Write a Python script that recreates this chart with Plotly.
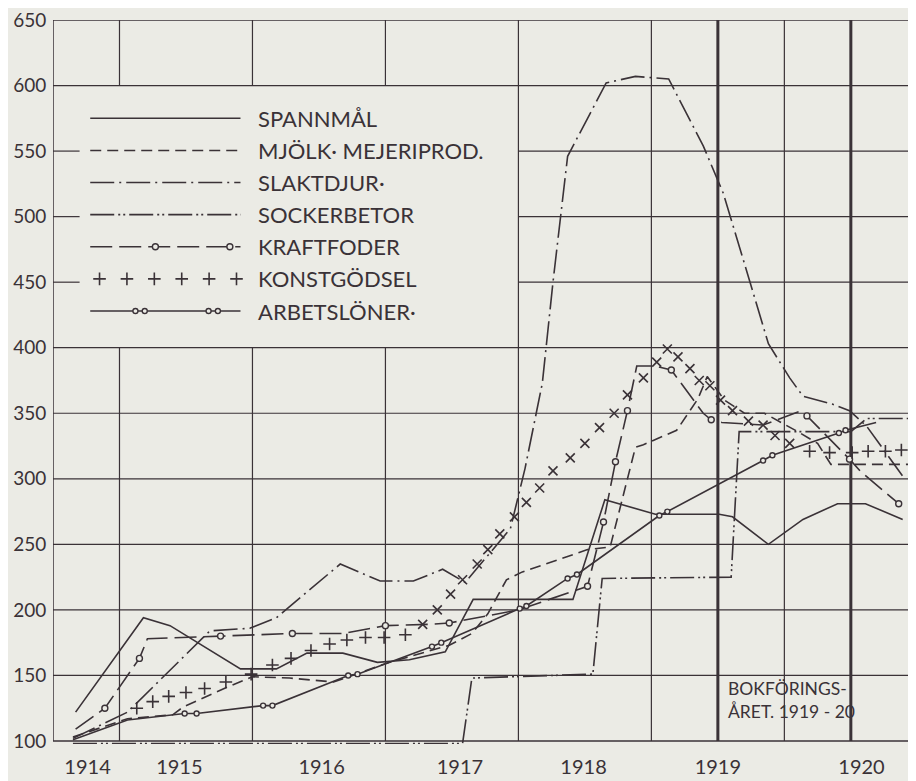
import plotly.graph_objects as go

# ---------------- data ----------------
SERIES_NAMES = ["SPANNMÅL", "MJÖLK· MEJERIPROD.", "SLAKTDJUR·", "SOCKERBETOR",
                "KRAFTFODER", "KONSTGÖDSEL", "ARBETSLÖNER·"]

SPANNMAL_X = [1914.17, 1914.68, 1914.88, 1915.41, 1915.68, 1915.91, 1916.18, 1916.44,
              1916.68, 1916.95, 1917.16, 1917.91, 1918.15, 1918.53, 1919.01, 1919.11,
              1919.38, 1919.64, 1919.90, 1920.11, 1920.39]
SPANNMAL_Y = [122, 194, 188, 155, 155, 167, 167, 160, 162, 168, 208, 208, 284, 273, 273,
              271, 250, 269, 281, 281, 269]

MJOLK_X = [1914.15, 1914.56, 1914.90, 1914.98, 1915.31, 1915.50, 1915.78, 1916.11, 1916.53,
           1916.78, 1916.98, 1917.15, 1917.27, 1917.41, 1917.53, 1918.02, 1918.19, 1918.38,
           1918.44, 1918.69, 1918.85, 1918.92, 1919.05, 1919.20, 1919.35, 1919.60, 1919.75,
           1919.85, 1920.49]
MJOLK_Y = [103, 117, 120, 126, 141, 149, 148, 145, 160, 167, 173, 182, 197, 223, 229, 246,
           248, 324, 326, 337, 361, 378, 360, 350, 350, 336, 327, 311, 311]

SLAKTDJUR_X = [1914.15, 1914.56, 1915.18, 1915.48, 1915.68, 1916.16, 1916.46, 1916.71,
               1916.93, 1917.10, 1917.44, 1917.55, 1917.68, 1917.76, 1917.87, 1918.16,
               1918.38, 1918.63, 1918.89, 1919.04, 1919.23, 1919.38, 1919.54, 1919.64,
               1919.86, 1919.99, 1920.12, 1920.39]
SLAKTDJUR_Y = [102, 122, 184, 186, 194, 235, 222, 222, 231, 221, 262, 308, 373, 450, 546,
               602, 607, 605, 554, 518, 454, 403, 377, 363, 357, 352, 340, 302]

SOCKERBETOR_X = [1914.15, 1917.08, 1917.15, 1918.06, 1918.13, 1919.10, 1919.16, 1920.00,
                 1920.12, 1920.49]
SOCKERBETOR_Y = [98, 98, 148, 151, 224, 225, 336, 336, 346, 346]

KRAFTFODER_X = [1914.17, 1914.39, 1914.65, 1914.71, 1915.26, 1915.80, 1916.18, 1916.50,
                1916.83, 1916.98, 1917.50, 1917.85, 1918.02, 1918.14, 1918.23, 1918.32,
                1918.39, 1918.53, 1918.65, 1918.89, 1918.95, 1919.03, 1919.34, 1919.63,
                1919.67, 1919.99, 1920.07, 1920.36]
KRAFTFODER_Y = [109, 125, 163, 178, 180, 182, 182, 188, 189, 190, 200, 212, 218, 267, 313,
                352, 386, 386, 383, 350, 345, 343, 341, 352, 348, 315, 306, 281]
KRAFTFODER_CIRCLES = [1, 2, 4, 5, 7, 9, 12, 13, 14, 15, 18, 20, 24, 25, 27]

KONSTGODSEL_X = [1914.63, 1914.75, 1914.87, 1915.00, 1915.14, 1915.30, 1915.49, 1915.65,
                 1915.79, 1915.94, 1916.08, 1916.21, 1916.35, 1916.49, 1916.65, 1916.78,
                 1916.89, 1916.99, 1917.08, 1917.19, 1917.27, 1917.36, 1917.47, 1917.56,
                 1917.66, 1917.76, 1917.89, 1918.00, 1918.11, 1918.22, 1918.32, 1918.44,
                 1918.54, 1918.62, 1918.70, 1918.79, 1918.86, 1918.94, 1919.02, 1919.11,
                 1919.23, 1919.34, 1919.43, 1919.54, 1919.69, 1919.84, 1920.01, 1920.13,
                 1920.26, 1920.38]
KONSTGODSEL_Y = [125, 130, 134, 137, 140, 145, 151, 158, 163, 169, 174, 177, 179, 179, 181,
                 189, 200, 212, 223, 235, 246, 258, 271, 282, 293, 306, 316, 327, 339, 350,
                 364, 377, 389, 399, 393, 384, 375, 371, 360, 352, 344, 341, 333, 327, 321,
                 320, 320, 321, 321, 322]

ARBETSLONER_X = [1914.15, 1914.56, 1914.99, 1915.08, 1915.58, 1915.65, 1916.22, 1916.29,
                 1916.85, 1916.92, 1917.51, 1917.56, 1917.87, 1917.94, 1918.56, 1918.62,
                 1919.34, 1919.41, 1919.91, 1919.96, 1920.19]
ARBETSLONER_Y = [101, 116, 121, 121, 127, 127, 150, 151, 172, 175, 201, 203, 224, 227, 272,
                 275, 314, 318, 335, 337, 343]

YEAR_TICKS = [1914.26, 1914.95, 1916.02, 1917.06, 1917.99, 1919.0, 1920.08]
YEAR_LABELS = ["1914", "1915", "1916", "1917", "1918", "1919", "1920"]
Y_TICKS = [100, 150, 200, 250, 300, 350, 400, 450, 500, 550, 600, 650]
NOTE_TEXT = "BOKFÖRINGS-<br>ÅRET. 1919 - 20"

# ---------------- styling / layout ----------------
INK = "#3a3237"
BG = "#ebebe5"
FONT = "Lato, 'Noto Sans', sans-serif"
X_MIN, X_MAX = 1914.0, 1920.49
Y_MIN, Y_MAX = 100, 650
Y_RANGE = [97.7, 650]                    # a little room below the 100-line
LEG_X0, LEG_X1 = 1914.2, 1917.5          # blank legend panel
LEG_Y0, LEG_Y1 = 400, 600
SAMPLE_X0, SAMPLE_X1, TEXT_X = 1914.28, 1915.41, 1915.53
LEG_ROWS = [575, 550.5, 526, 501.5, 477, 452.5, 428]

DASH = {
    "mjolk": "11px,6px",
    "slakt": "24px,5px,2px,5px",
    "socker": "24px,4px,2px,3px,2px,4px",
    "kraft": "22px,7px",
}
LW = 1.6

fig = go.Figure()


def add_line(x, y, dash="solid", width=LW):
    fig.add_trace(go.Scatter(x=x, y=y, mode="lines", hoverinfo="skip", showlegend=False,
                             line=dict(color=INK, width=width, dash=dash)))


def add_circles(x, y, size=6):
    fig.add_trace(go.Scatter(x=x, y=y, mode="markers", hoverinfo="skip", showlegend=False,
                             marker=dict(symbol="circle", size=size, color=BG,
                                         line=dict(color=INK, width=1.4))))


def add_crosses(x, y, symbols):
    fig.add_trace(go.Scatter(x=x, y=y, mode="markers", hoverinfo="skip", showlegend=False,
                             marker=dict(symbol=symbols, size=9, color=INK,
                                         line=dict(color=INK, width=1.6))))


# series
add_line(SOCKERBETOR_X, SOCKERBETOR_Y, DASH["socker"])
add_line(SPANNMAL_X, SPANNMAL_Y)
add_line(MJOLK_X, MJOLK_Y, DASH["mjolk"])
add_line(SLAKTDJUR_X, SLAKTDJUR_Y, DASH["slakt"])
add_line(KRAFTFODER_X, KRAFTFODER_Y, DASH["kraft"])
add_circles([KRAFTFODER_X[i] for i in KRAFTFODER_CIRCLES],
            [KRAFTFODER_Y[i] for i in KRAFTFODER_CIRCLES])
add_line(ARBETSLONER_X, ARBETSLONER_Y)
add_circles(ARBETSLONER_X[2:-1], ARBETSLONER_Y[2:-1], size=5)
add_crosses(KONSTGODSEL_X, KONSTGODSEL_Y,
            ["x-thin-open" if 1916.7 < v < 1919.6 else "cross-thin-open" for v in KONSTGODSEL_X])

# ---------------- legend (drawn inside the blank panel) ----------------
sx = [SAMPLE_X0, SAMPLE_X1]
add_line(sx, [LEG_ROWS[0]] * 2)
add_line(sx, [LEG_ROWS[1]] * 2, DASH["mjolk"])
add_line(sx, [LEG_ROWS[2]] * 2, DASH["slakt"])
add_line(sx, [LEG_ROWS[3]] * 2, DASH["socker"])
add_line(sx, [LEG_ROWS[4]] * 2, DASH["kraft"])
add_circles([1914.77, 1915.33], [LEG_ROWS[4]] * 2)
n_cross = 6
cx = [SAMPLE_X0 + 0.07 + i * (SAMPLE_X1 - SAMPLE_X0 - 0.1) / (n_cross - 1) for i in range(n_cross)]
add_crosses(cx, [LEG_ROWS[5]] * n_cross, "cross-thin-open")
add_line(sx, [LEG_ROWS[6]] * 2)
add_circles([1914.62, 1914.69, 1915.17, 1915.24], [LEG_ROWS[6]] * 4, size=5)
for name, yy in zip(SERIES_NAMES, LEG_ROWS):
    fig.add_annotation(x=TEXT_X, y=yy, text=name, showarrow=False, xanchor="left",
                       yanchor="middle", font=dict(family=FONT, size=22, color=INK))

# ---------------- hand-drawn grid ----------------
shapes = []


def seg(x0, y0, x1, y1, w=1.2):
    shapes.append(dict(type="line", xref="x", yref="y", x0=x0, y0=y0, x1=x1, y1=y1,
                       layer="below", line=dict(color=INK, width=w)))


for yv in Y_TICKS:
    if LEG_Y0 < yv < LEG_Y1:
        seg(X_MIN, yv, LEG_X0, yv)
        seg(LEG_X1, yv, X_MAX, yv)
    else:
        seg(X_MIN, yv, X_MAX, yv, 1.5 if yv in (Y_MIN, Y_MAX) else 1.2)
for xv in [1914.5, 1915.5, 1916.5]:
    seg(xv, Y_MIN, xv, LEG_Y0)
    seg(xv, LEG_Y1, xv, Y_MAX)
for xv in [1917.5, 1918.5, 1919.5]:
    seg(xv, Y_MIN, xv, Y_MAX)
for xv in [1919.0, 1920.0]:
    seg(xv, Y_MIN, xv, Y_MAX, 3)
seg(X_MIN, Y_MIN, X_MIN, Y_MAX, 1.5)

fig.add_annotation(x=1919.06, y=131, text=NOTE_TEXT, showarrow=False, xanchor="left",
                   yanchor="middle", align="left",
                   font=dict(family=FONT, size=17.5, color=INK))

# The page body has an 8px margin, so the figure is sized/offset to fill the window.
fig.update_layout(
    width=908, height=773,
    margin=dict(l=45, r=0, t=5, b=37),
    paper_bgcolor=BG, plot_bgcolor=BG,
    shapes=shapes,
    showlegend=False,
    xaxis=dict(range=[X_MIN, X_MAX], showgrid=False, zeroline=False, showline=False,
               tickvals=YEAR_TICKS, ticktext=YEAR_LABELS, ticks="outside", ticklen=5,
               tickcolor="rgba(0,0,0,0)", ticklabeloverflow="allow",
               tickfont=dict(family=FONT, size=20, color=INK)),
    yaxis=dict(range=Y_RANGE, showgrid=False, zeroline=False, showline=False,
               tickvals=Y_TICKS, ticktext=[str(v) for v in Y_TICKS], ticks="outside",
               ticklen=2, tickcolor="rgba(0,0,0,0)", ticklabeloverflow="allow",
               tickfont=dict(family=FONT, size=19, color=INK)),
)

fig.write_html("out.html")
